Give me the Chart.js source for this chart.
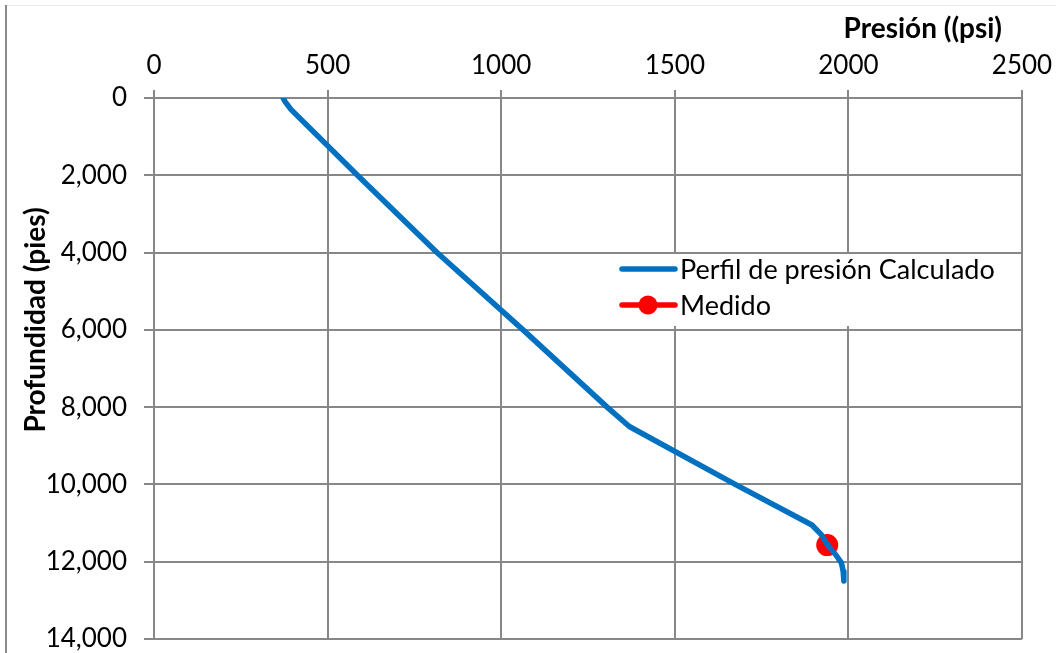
<!DOCTYPE html>
<html>
<head>
<meta charset="utf-8">
<script src="https://cdn.jsdelivr.net/npm/chart.js@4/dist/chart.umd.min.js"></script>
<style>
html,body{margin:0;padding:0;background:#fff;}
#wrap{position:relative;width:1056px;height:653px;}
</style>
</head>
<body>
<div id="wrap"><canvas id="c" width="1056" height="653"></canvas></div>
<script>
// Calculated pressure profile (psi vs depth in ft)
const calcPressure = [372, 378, 395, 586, 815, 1063, 1305, 1369, 1674, 1895, 1922, 1940, 1962, 1980, 1985, 1987];
const calcDepth    = [0, 100, 300, 2000, 4000, 6000, 8000, 8500, 10000, 11050, 11300, 11570, 11800, 12030, 12250, 12500];
// Measured point
const measPressure = [1939];
const measDepth    = [11570];
// Axis settings
const xTicks = [0, 500, 1000, 1500, 2000, 2500];
const yTicks = [0, 2000, 4000, 6000, 8000, 10000, 12000, 14000];
const seriesNames = ['Perfil de presión Calculado', 'Medido'];
const xTitle = 'Presión ((psi)';
const yTitle = 'Profundidad (pies)';

const FONT = 'Lato, "Liberation Sans", sans-serif';
const GRID = '#878787';

const calcData = calcPressure.map((p, i) => ({x: p, y: calcDepth[i]}));
const measData = measPressure.map((p, i) => ({x: p, y: measDepth[i]}));

const decor = {
  id: 'decor',
  beforeDraw(chart) {
    const ctx = chart.ctx;
    ctx.save();
    ctx.fillStyle = '#fff';
    ctx.fillRect(0, 0, chart.width, chart.height);
    ctx.strokeStyle = '#ececec';
    ctx.lineWidth = 1;
    ctx.beginPath(); ctx.moveTo(6, 5.5); ctx.lineTo(1056, 5.5); ctx.stroke();
    ctx.strokeStyle = '#8a8a8a';
    ctx.lineWidth = 2;
    ctx.beginPath(); ctx.moveTo(6, 5); ctx.lineTo(6, 653); ctx.stroke();
    ctx.restore();
  },
  afterDraw(chart) {
    const ctx = chart.ctx;
    ctx.save();
    ctx.fillStyle = '#000';
    ctx.font = 'bold 28px ' + FONT;
    ctx.textAlign = 'right';
    ctx.textBaseline = 'alphabetic';
    ctx.fillText(xTitle, 1002, 38);
    ctx.translate(45, 320);
    ctx.rotate(-Math.PI / 2);
    ctx.textAlign = 'center';
    ctx.fillText(yTitle, 0, 0);
    ctx.restore();

    // legend
    ctx.save();
    ctx.fillStyle = '#fff';
    ctx.fillRect(612, 254, 392, 72);
    ctx.lineCap = 'round';
    ctx.lineWidth = 5.5;
    ctx.strokeStyle = '#0070C0';
    ctx.beginPath(); ctx.moveTo(622, 269); ctx.lineTo(675, 269); ctx.stroke();
    ctx.strokeStyle = '#FF0000';
    ctx.beginPath(); ctx.moveTo(622, 305); ctx.lineTo(675, 305); ctx.stroke();
    ctx.fillStyle = '#FF0000';
    ctx.beginPath(); ctx.arc(648, 305, 9.5, 0, Math.PI * 2); ctx.fill();
    ctx.fillStyle = '#000';
    ctx.font = '27px ' + FONT;
    ctx.textAlign = 'left';
    ctx.textBaseline = 'middle';
    ctx.fillText(seriesNames[0], 680, 270);
    ctx.fillText(seriesNames[1], 680, 306);
    ctx.restore();
  }
};

new Chart(document.getElementById('c'), {
  type: 'scatter',
  data: {
    datasets: [
      {
        label: seriesNames[0],
        data: calcData,
        showLine: true,
        borderColor: '#0070C0',
        backgroundColor: '#0070C0',
        borderWidth: 5.5,
        borderCapStyle: 'round',
        borderJoinStyle: 'round',
        pointRadius: 0,
        tension: 0
      },
      {
        label: seriesNames[1],
        data: measData,
        showLine: false,
        borderColor: '#FF0000',
        backgroundColor: '#FF0000',
        pointRadius: 11,
        pointBorderWidth: 0
      }
    ]
  },
  options: {
    responsive: false,
    animation: false,
    devicePixelRatio: 1,
    layout: {padding: {left: 0, top: 0, right: 34, bottom: 14}},
    plugins: {legend: {display: false}, tooltip: {enabled: false}},
    scales: {
      x: {
        type: 'linear',
        position: 'top',
        min: 0, max: 2500,
        afterFit(s) { s.height = 98; s.paddingLeft = 0; s.paddingRight = 0; },
        afterBuildTicks(s) { s.ticks = xTicks.map(v => ({value: v})); },
        ticks: {color: '#000', font: {family: FONT, size: 26}, padding: 9, maxRotation: 0,
                callback: v => String(v)},
        grid: {color: GRID, lineWidth: 2, tickLength: 8, drawTicks: true},
        border: {color: GRID, width: 2}
      },
      y: {
        type: 'linear',
        reverse: true,
        min: 0, max: 14000,
        afterFit(s) { s.width = 154; s.paddingTop = 0; s.paddingBottom = 0; },
        afterBuildTicks(s) { s.ticks = yTicks.map(v => ({value: v})); },
        ticks: {color: '#000', font: {family: FONT, size: 26}, padding: 17,
                callback: v => v.toLocaleString('en-US')},
        grid: {color: GRID, lineWidth: 2, tickLength: 10, drawTicks: true},
        border: {color: GRID, width: 2}
      }
    }
  },
  plugins: [decor]
});
</script>
</body>
</html>
